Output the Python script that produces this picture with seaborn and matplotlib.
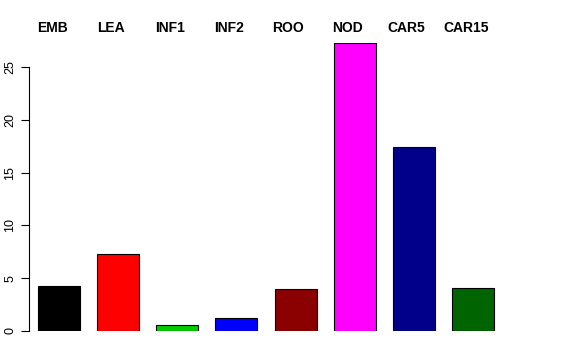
import matplotlib
matplotlib.use("Agg")
import matplotlib.pyplot as plt
import seaborn as sns
import pandas as pd

sns.set_theme(style="white")
plt.rcParams["font.family"] = ["Liberation Sans", "DejaVu Sans"]
plt.rcParams["text.color"] = "black"
plt.rcParams["ytick.color"] = "black"

tissues = ["EMB", "LEA", "INF1", "INF2", "ROO", "NOD", "CAR5", "CAR15"]
values = [4.25, 7.3, 0.57, 1.23, 3.98, 27.25, 17.42, 4.05]
colors = ["#000000", "#FF0000", "#00CD00", "#0000FF", "#8B0000", "#FF00FF", "#00008B", "#006400"]

df = pd.DataFrame({"tissue": tissues, "value": values})

fig = plt.figure(figsize=(5.76, 3.6), dpi=100)
ax = fig.add_axes([29 / 576, 29 / 360, (532 - 29) / 576, (331 - 43) / 360])

sns.barplot(data=df, x="tissue", y="value", hue="tissue", palette=colors,
            saturation=1, width=0.71, edgecolor="black", linewidth=0.8,
            legend=False, ax=ax)

ax.set_xlim(-0.51, 8.0)
ax.set_ylim(0, 27.27)
ax.set_xlabel("")
ax.set_ylabel("")
ax.set_xticks([])
ax.set_yticks([0, 5, 10, 15, 20, 25])
ax.set_yticklabels(["0", "5", "10", "15", "20", "25"], rotation=90, va="center", fontsize=9)
ax.tick_params(axis="y", left=True, length=6, width=0.8, color="black", pad=3)

for s in ["top", "right", "bottom"]:
    ax.spines[s].set_visible(False)
ax.spines["left"].set_bounds(0, 25)
ax.spines["left"].set_color("black")
ax.spines["left"].set_linewidth(0.8)

# labels above the plot, slightly left of each bar
for i, t in enumerate(tissues):
    ax.text(i - 0.12, 1.0 + 8 / 288, t, transform=ax.get_xaxis_transform(),
            ha="center", va="bottom", fontsize=10, fontweight="bold", color="black")

fig.savefig("out.png", dpi=100)
